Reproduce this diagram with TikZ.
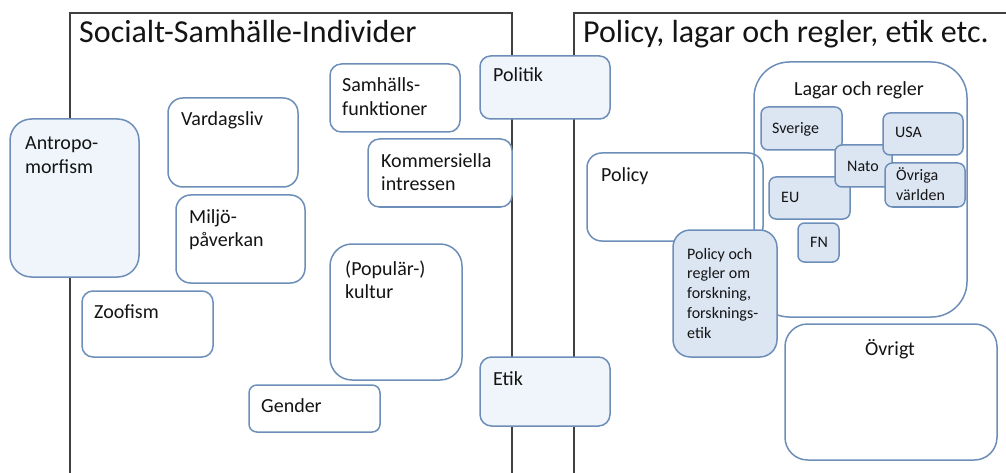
\documentclass[tikz,border=0pt]{standalone}
\usepackage{fontspec}
\setmainfont{Carlito}
\begin{document}
\definecolor{edgeblue}{RGB}{108,142,184}
\definecolor{paleblue}{RGB}{240,245,251}
\definecolor{midblue}{RGB}{220,230,243}
\definecolor{framegray}{RGB}{64,64,64}
\definecolor{ink}{RGB}{20,20,20}
% rounded box from its corners: name, style, x1, y1, x2, y2
\newcommand\rbox[6]{%
  \pgfmathsetmacro\rw{#5-#3}\pgfmathsetmacro\rh{#6-#4}%
  \pgfmathsetmacro\rr{min(\rw,\rh)/6}%
  \node[#2, minimum width=\rw pt, minimum height=\rh pt, rounded corners=\rr pt]
    (#1) at ({(#3+#5)/2},{(#4+#6)/2}) {};}
\begin{tikzpicture}[x=1pt,y=-1pt,
  frame/.style={draw=framegray, line width=1.2pt},
  plainbox/.style={draw=edgeblue, line width=1.5pt, fill=white, inner sep=0pt, outer sep=0pt},
  openbox/.style={draw=edgeblue, line width=1.5pt, inner sep=0pt, outer sep=0pt},
  palebox/.style={plainbox, fill=paleblue},
  midbox/.style={plainbox, fill=midblue},
  title/.style={font=\fontsize{32}{38}\selectfont, text=ink, inner sep=0pt, anchor=base west},
  lbl/.style={font=\fontsize{20}{23.5}\selectfont, text=ink, inner sep=0pt, align=left, anchor=base west},
  small/.style={font=\fontsize{16}{19.75}\selectfont, text=ink, inner sep=0pt, align=left, anchor=base west}]
\useasboundingbox (0,0) rectangle (1006,473);

% the two open frames
\coordinate (lf1) at (70,473);  \coordinate (lf2) at (70,13);
\coordinate (lf3) at (512,13);  \coordinate (lf4) at (512,473);
\draw[frame] (lf1) -- (lf2) -- (lf3) -- (lf4);
\coordinate (rf1) at (574,473); \coordinate (rf2) at (574,13);
\coordinate (rf3) at (1006,13);
\draw[frame] (rf1) -- (rf2) -- (rf3);
\node[title] (t-left) at (79,43) {Socialt-Samhälle-Individer};
\node[title] (t-right) at (583,43) {Policy, lagar och regler, etik etc.};

% social side (multi-line labels sit on the baseline of their last line)
\rbox{antro}{palebox}{10}{119}{139}{277}
\node[lbl] (antro-t) at (25,173.5) {Antropo-\\morfism};
\rbox{vardag}{plainbox}{168}{98}{298}{187}
\node[lbl] (vardag-t) at (181,126) {Vardagsliv};
\rbox{miljo}{plainbox}{176}{195}{305}{283}
\node[lbl] (miljo-t) at (189,246.5) {Miljö-\\påverkan};
\rbox{zoo}{plainbox}{82}{291}{213}{357}
\node[lbl] (zoo-t) at (94,318) {Zoofism};
\rbox{samh}{plainbox}{330}{64}{460}{132}
\node[lbl] (samh-t) at (342,115.5) {Samhälls-\\funktioner};
\rbox{komm}{plainbox}{368}{139}{512}{207}
\node[lbl] (komm-t) at (381,190.5) {Kommersiella\\intressen};
\rbox{kultur}{plainbox}{330}{244}{462}{380}
\node[lbl] (kultur-t) at (345,298.5) {(Populär-)\\kultur};
\rbox{gender}{plainbox}{249}{385}{380}{432}
\node[lbl] (gender-t) at (261,412) {Gender};

% boxes on the border between the frames
\rbox{politik}{palebox}{480}{56}{610}{119}
\node[lbl] (politik-t) at (493,82) {Politik};
\rbox{etik}{palebox}{480}{357}{610}{426}
\node[lbl] (etik-t) at (493,385) {Etik};

% policy side
\rbox{policy}{openbox}{587}{153}{763}{241}
\node[lbl] (policy-t) at (601,182) {Policy};
\rbox{lagar}{openbox}{754}{62}{967}{317}
\node[lbl, anchor=base] (lagar-t) at (859,96) {Lagar och regler};
\rbox{sverige}{midbox}{761}{107}{842}{150}
\node[small] (sverige-t) at (772,134) {Sverige};
\rbox{eu}{midbox}{769}{177}{850}{219}
\node[small] (eu-t) at (781,203) {EU};
\rbox{nato}{midbox}{835}{145}{892}{187}
\node[small] (nato-t) at (847,172) {Nato};
\rbox{usa}{midbox}{883}{113}{963}{155}
\node[small] (usa-t) at (895,138) {USA};
\rbox{ovriga}{midbox}{885}{163}{965}{207}
\node[small] (ovriga-t) at (896,200.5) {Övriga\\världen};
\rbox{fn}{midbox}{798}{223}{839}{262}
\node[small] (fn-t) at (810,247) {FN};
\rbox{forsk}{midbox}{673}{230}{777}{357}
\node[small] (forsk-t) at (687,338) {Policy och\\regler om\\forskning,\\forsknings-\\etik};
\rbox{ovrigt}{plainbox}{785}{324}{997}{460}
\node[lbl, anchor=base] (ovrigt-t) at (890,355) {Övrigt};
\end{tikzpicture}
\end{document}
